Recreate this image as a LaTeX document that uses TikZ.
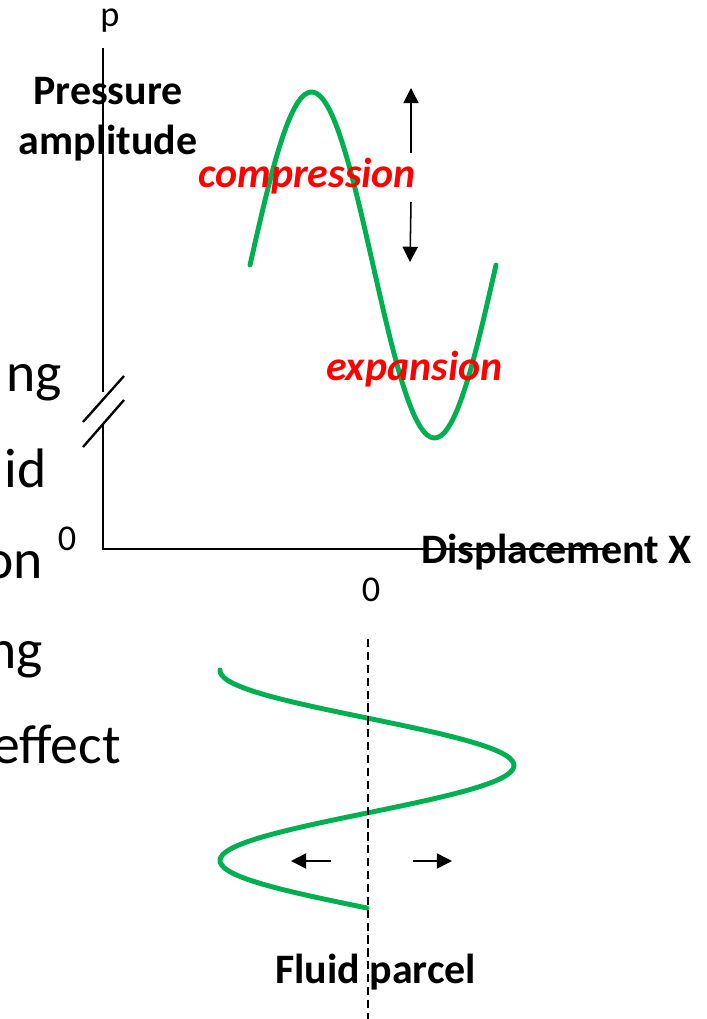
\documentclass[tikz,border=0pt]{standalone}
\usepackage{fontspec}
\setmainfont{Carlito}
\usepackage{tikz}
\usetikzlibrary{arrows.meta,calc,positioning}
\definecolor{wavegreen}{RGB}{0,176,80}

\begin{document}
\begin{tikzpicture}[x=0.03cm,y=-0.03cm,
    wave/.style={wavegreen,line width=4.2pt,line cap=round},
    axis/.style={line width=2pt},
    motion/.style={line width=1.3pt,-{Triangle[length=13pt,width=13pt]}},
    lbl/.style={inner sep=0pt,anchor=base,font=\fontsize{35.8}{40}\selectfont\bfseries},
    redlbl/.style={lbl,anchor=base west,text=red,font=\fontsize{35.8}{40}\selectfont\bfseries\itshape},
    zero/.style={inner sep=0pt,anchor=base,font=\fontsize{31}{34}\selectfont},
    frag/.style={inner sep=0pt,anchor=base east,font=\fontsize{47.5}{55}\selectfont}]
      \useasboundingbox (0,0) rectangle (706,1019);
      \clip (0,0) rectangle (706,1019);
      \def\xo{103}
      \def\yo{549}
      \coordinate (ytop) at (\xo,48);
      \coordinate (ybrk1) at (\xo,392);
      \coordinate (ybrk2) at (\xo,425);
      \coordinate (O) at (\xo,\yo);
      \coordinate (xend) at (610,\yo);
      %Text fragments from the slide behind
      \foreach \t/\xr/\yb [count=\i] in {ng/62/391, id/47/487, on/43/578, ng/43/668, effect/121/763} {
          \node[frag] (frag\i) at (\xr,\yb) {\t};
        }
      %Draw the waves
      \draw[wave] plot[domain=250:496,samples=90,smooth] (\x,{265-173*sin((\x-250)/246*360)});
      \draw[wave] plot[domain=670:908,samples=90,smooth] ({367+147*sin((\x-718)/190*360)},\x);
      %Draw the axis
      \draw[axis] (ytop) -- (ybrk1);
      \draw[axis] (ybrk2) -- (O) -- (xend);
      \coordinate (b1) at (83,422);
      \coordinate (b2) at (124,376);
      \coordinate (b3) at (83,447);
      \coordinate (b4) at (124,400);
      \draw[axis] (b1) -- (b2);
      \draw[axis] (b3) -- (b4);
      %Draw labels
      \node[inner sep=0pt,anchor=base,font=\fontsize{31}{34}\selectfont] (p) at (110,27) {p};
      \node[lbl] (pressure) at (108,105) {Pressure};
      \node[lbl] (amplitude) at (108,155) {amplitude};
      \node[redlbl] (compr) at (198,188) {compression};
      \node[redlbl] (expan) at (326,380) {expansion};
      \node[lbl,anchor=base west] (displ) at (421,563) {Displacement X};
      \node[zero] (zeroL) at (67,550) {0};
      \node[zero] (zeroX) at (371,601) {0};
      \node[lbl,anchor=base west] (fluid) at (275,983) {Fluid parcel};
      %Draw arrows
      \coordinate (up0) at (411,153);
      \coordinate (up1) at (411,88);
      \coordinate (dn0) at (411,202);
      \coordinate (dn1) at (410,262);
      \draw[motion] (up0) -- (up1);
      \draw[motion] (dn0) -- (dn1);
      \coordinate (lf0) at (331,861);
      \coordinate (lf1) at (291,861);
      \coordinate (rt0) at (413,861);
      \coordinate (rt1) at (452,861);
      \draw[motion] (lf0) -- (lf1);
      \draw[motion] (rt0) -- (rt1);
      %Dashed centre line
      \coordinate (c0) at (368,639);
      \coordinate (c1) at (368,1019);
      \draw[line width=1.2pt,dash pattern=on 7pt off 4pt] (c0) -- (c1);
    \end{tikzpicture}
\end{document}
